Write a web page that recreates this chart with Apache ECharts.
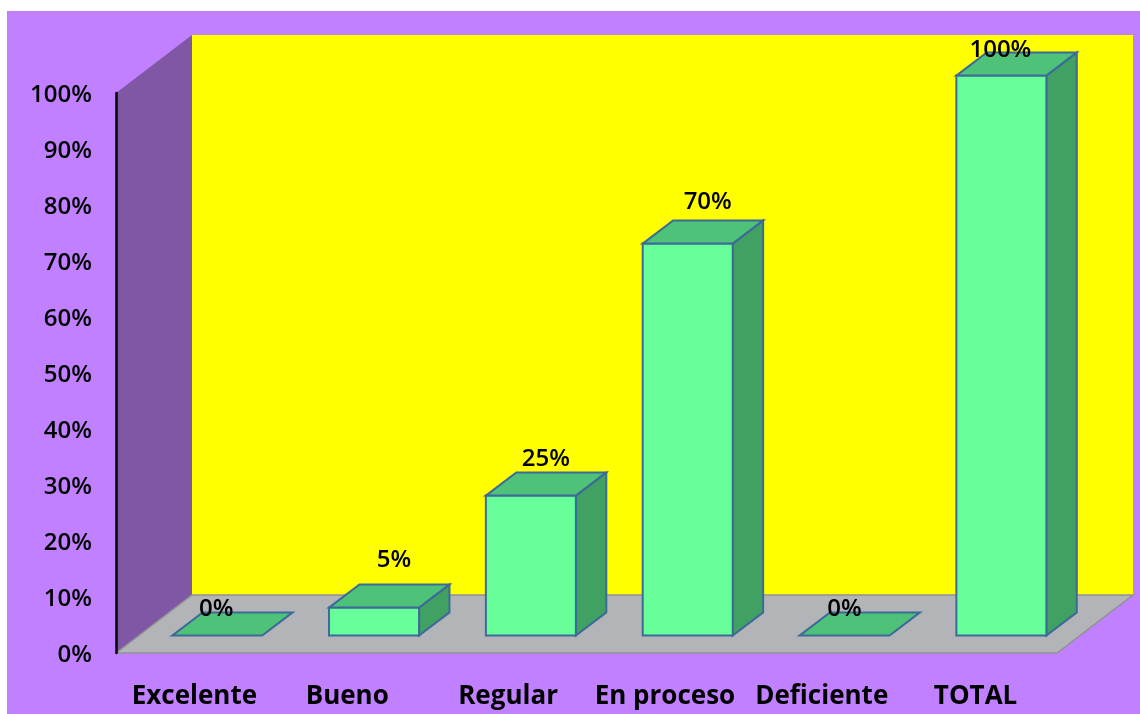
<!DOCTYPE html>
<html>
<head>
<meta charset="utf-8">
<style>
html,body{margin:0;padding:0;background:#fff;width:1140px;height:714px;overflow:hidden}
#chart{position:absolute;left:7px;top:11px;width:1133px;height:703px}
</style>
<script src="https://cdn.jsdelivr.net/npm/echarts@6/dist/echarts.min.js"></script>
</head>
<body>
<div id="chart"></div>
<script>
const categories = ['Excelente', 'Bueno', 'Regular', 'En proceso', 'Deficiente', 'TOTAL'];
const percentages = [0, 5, 25, 70, 0, 100];

const chart = echarts.init(document.getElementById('chart'), null, {renderer: 'canvas'});

const WALL_DX = 76, WALL_DY = 58;
const EDGE = '#3D6A98';
const FONT = '"Open Sans", sans-serif';

function poly(points, fill, stroke, lineWidth) {
  return {type: 'polygon', shape: {points}, style: {fill, stroke: stroke || 'none', lineWidth: lineWidth || 0}};
}

function renderRoom(params, api) {
  const o = api.coord([0, 0]);
  const t = api.coord([0, 100]);
  const band = api.size([1, 0])[0];
  const x0 = o[0] - band / 2, y0 = o[1], yT = t[1];
  const x1 = x0 + band * categories.length;
  return {type: 'group', children: [
    poly([[x0 + WALL_DX, yT - WALL_DY], [x1 + WALL_DX, yT - WALL_DY], [x1 + WALL_DX, y0 - WALL_DY], [x0 + WALL_DX, y0 - WALL_DY]], '#FFFF00'),
    poly([[x0, yT], [x0 + WALL_DX, yT - WALL_DY], [x0 + WALL_DX, y0 - WALL_DY], [x0, y0]], '#7F57A4'),
    poly([[x0, y0], [x0 + WALL_DX, y0 - WALL_DY], [x1 + WALL_DX, y0 - WALL_DY], [x1, y0]], '#B2B4B8', '#8F9294', 1.5)
  ]};
}

function renderBar(params, api) {
  const i = api.value(0), v = api.value(1);
  const band = api.size([1, 0])[0];
  const w = band * 0.574;
  const top = api.coord([i, v]), base = api.coord([i, 0]);
  const gx = WALL_DX * 0.3, gy = WALL_DY * 0.3;
  const dx = WALL_DX * 0.4, dy = WALL_DY * 0.4;
  const l = base[0] + gx - w / 2, r = l + w;
  const yb = base[1] - gy, yt = top[1] - gy;
  const children = [];
  if (v > 0) {
    children.push(poly([[r, yt], [r + dx, yt - dy], [r + dx, yb - dy], [r, yb]], '#40A162', EDGE, 2));
    children.push(poly([[l, yt], [r, yt], [r, yb], [l, yb]], '#68FF9A', EDGE, 2));
  }
  children.push(poly([[l, yt], [l + dx, yt - dy], [r + dx, yt - dy], [r, yt]], '#4DC278', EDGE, 2));
  return {type: 'group', children};
}

function renderLabel(params, api) {
  const i = api.value(0), v = api.value(1);
  const nudges = [[-1, -26], [20, -47], [15, -36], [20, -41], [0, -26], [-1, -25]];
  const top = api.coord([i, v]);
  const gx = WALL_DX * 0.3, gy = WALL_DY * 0.3;
  return {type: 'text', style: {
    x: top[0] + gx + nudges[i][0], y: top[1] - gy + nudges[i][1],
    text: v + '%', fill: '#000', font: '600 24px ' + FONT, align: 'center', verticalAlign: 'middle'
  }};
}

const points = percentages.map((v, i) => [i, v]);
const leftShift = {Bueno: 8, TOTAL: 6};

chart.setOption({
  animation: false,
  backgroundColor: '#C080FF',
  tooltip: {show: false},
  grid: {left: 109, right: 83, top: 82, bottom: 61, containLabel: false},
  xAxis: {
    type: 'category',
    data: categories.map(c => leftShift[c] ? {value: c, textStyle: {padding: [0, leftShift[c], 0, 0]}} : c),
    axisLine: {show: false}, axisTick: {show: false}, splitLine: {show: false},
    axisLabel: {color: '#000', fontFamily: '"Open Sans", sans-serif', fontWeight: 'bold', fontSize: 26, margin: 31, interval: 0}
  },
  yAxis: {
    type: 'value', min: 0, max: 100, interval: 10, z: 5,
    axisLine: {show: true, lineStyle: {color: '#000', width: 2.5}},
    axisTick: {show: false}, splitLine: {show: false},
    axisLabel: {color: '#000', fontFamily: '"Open Sans", sans-serif', fontWeight: 600, fontSize: 24, margin: 24, verticalAlign: 'top', lineHeight: 5, formatter: '{value}%'}
  },
  series: [
    {type: 'custom', name: 'room', coordinateSystem: 'cartesian2d', silent: true, clip: false, z: 1, renderItem: renderRoom, data: [[0, 0]]},
    {type: 'custom', name: 'Porcentaje', coordinateSystem: 'cartesian2d', silent: true, clip: false, z: 2, renderItem: renderBar, data: points},
    {type: 'custom', name: 'etiquetas', coordinateSystem: 'cartesian2d', silent: true, clip: false, z: 3, renderItem: renderLabel, data: points}
  ]
});
</script>
</body>
</html>
